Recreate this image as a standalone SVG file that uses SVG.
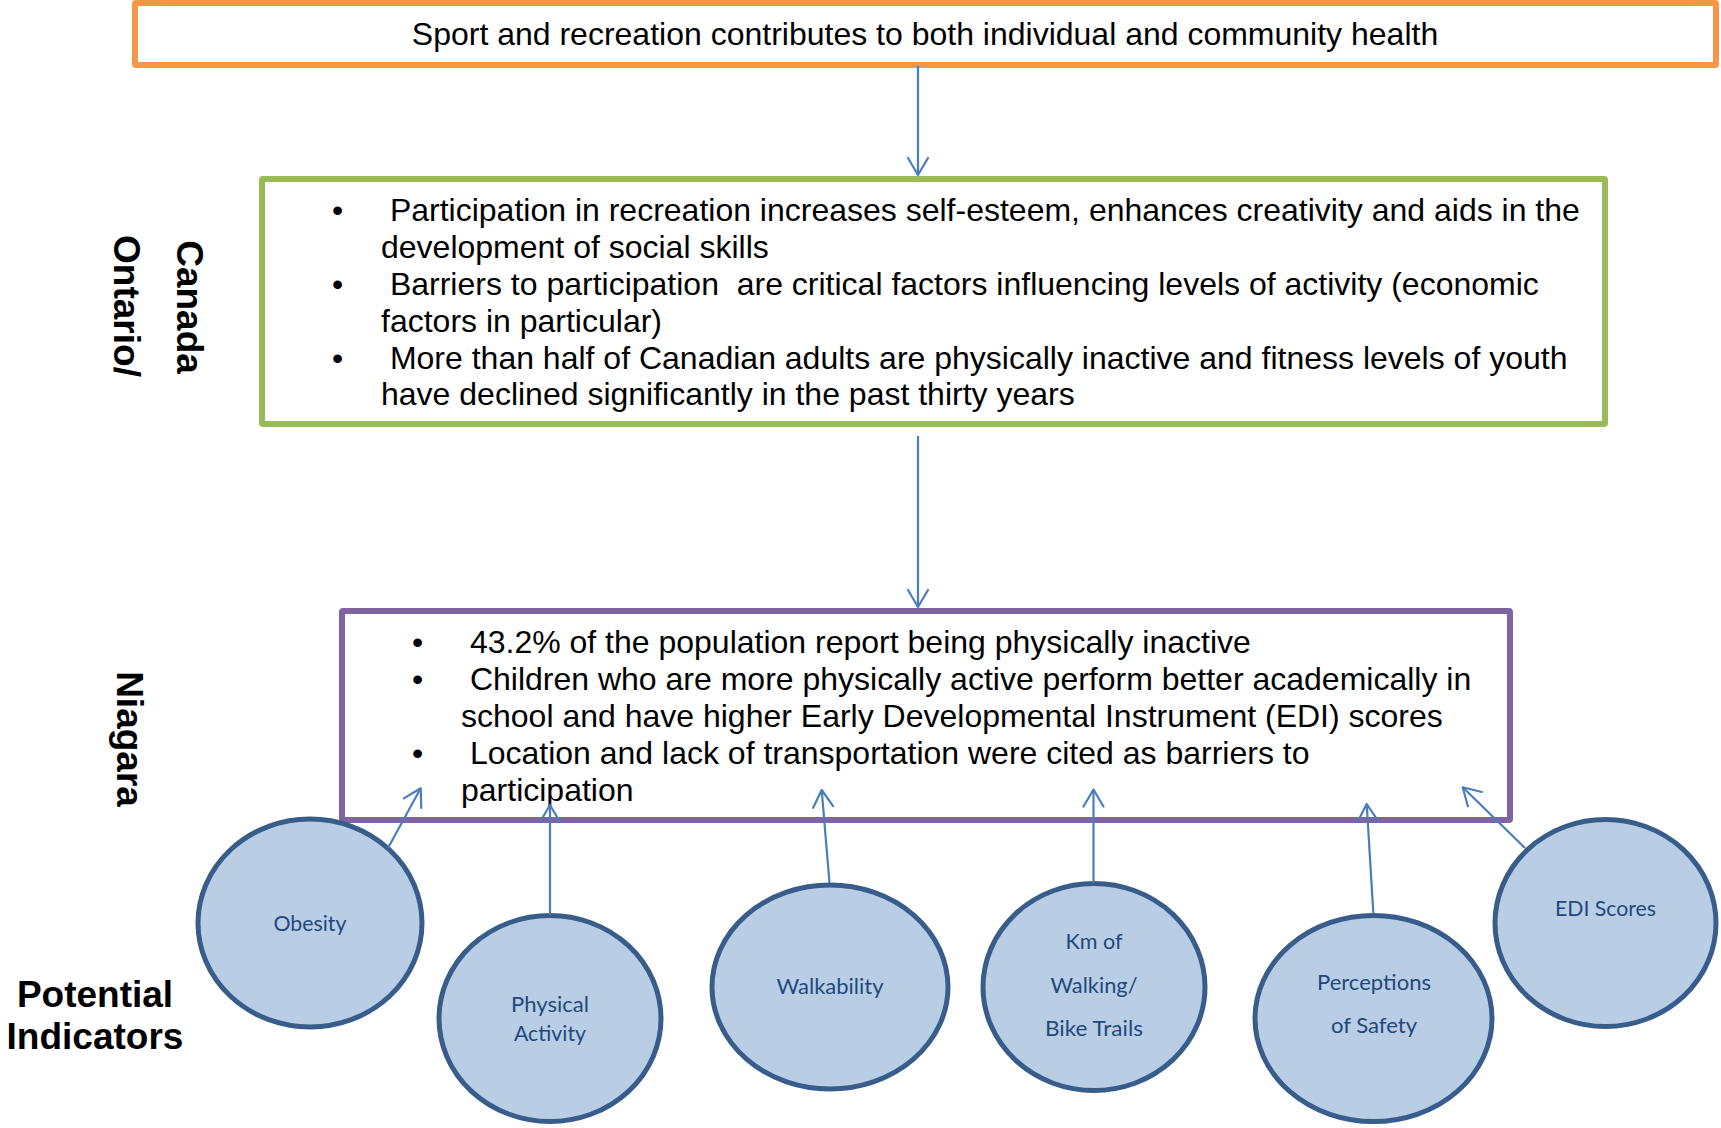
<svg xmlns="http://www.w3.org/2000/svg" width="1721" height="1128" viewBox="0 0 1721 1128">
  <style>
    .box { fill: #FFFFFF; stroke-width: 6; stroke-linejoin: round; }
    .body { font-family: "Liberation Sans", Arial, sans-serif; font-size: 32px; fill: #000000; white-space: pre; }
    .side { font-family: "Liberation Sans", Arial, sans-serif; font-size: 37px; font-weight: bold; fill: #000000; text-anchor: middle; }
    .ind ellipse { fill: #B9CDE5; stroke: #385D8A; stroke-width: 5; }
    .ind text { font-family: Lato, "Open Sans", sans-serif; font-size: 21px; fill: #1F497D; text-anchor: middle; }
    .link { fill: none; stroke: #4A7EBB; stroke-width: 2.2; marker-end: url(#open); }
  </style>
  <defs>
    <marker id="open" markerUnits="userSpaceOnUse" markerWidth="40" markerHeight="40" viewBox="-20 -20 40 40" refX="0" refY="0" orient="auto">
      <path d="M-17,-10 L0,0 L-17,10" fill="none" stroke="#4A7EBB" stroke-width="2.2" stroke-linejoin="round" stroke-linecap="round"/>
    </marker>
  </defs>

  <rect width="1721" height="1128" fill="#FFFFFF"/>

  <!-- headline statement -->
  <g id="headline">
    <rect class="box" x="135" y="3" width="1581" height="62" rx="1" stroke="#F79646"/>
    <text class="body" x="925" y="45" text-anchor="middle">Sport and recreation contributes to both individual and community health</text>
  </g>

  <!-- provincial / national evidence -->
  <g id="canada-ontario">
    <rect class="box" x="262" y="179" width="1343" height="245" rx="1" stroke="#9BBB59"/>
    <text class="body" x="332" y="221">•</text>
    <text class="body" x="381" y="221" xml:space="preserve"> Participation in recreation increases self-esteem, enhances creativity and aids in the</text>
    <text class="body" x="381" y="258">development of social skills</text>
    <text class="body" x="332" y="295">•</text>
    <text class="body" x="381" y="295" xml:space="preserve"> Barriers to participation  are critical factors influencing levels of activity (economic</text>
    <text class="body" x="381" y="332">factors in particular)</text>
    <text class="body" x="332" y="369">•</text>
    <text class="body" x="381" y="369" xml:space="preserve"> More than half of Canadian adults are physically inactive and fitness levels of youth</text>
    <text class="body" x="381" y="405">have declined significantly in the past thirty years</text>
  </g>

  <!-- regional evidence -->
  <g id="niagara">
    <rect class="box" x="342" y="611" width="1168" height="209" rx="1" stroke="#8064A2"/>
    <text class="body" x="412" y="653">•</text>
    <text class="body" x="461" y="653" xml:space="preserve"> 43.2% of the population report being physically inactive</text>
    <text class="body" x="412" y="690">•</text>
    <text class="body" x="461" y="690" xml:space="preserve"> Children who are more physically active perform better academically in</text>
    <text class="body" x="461" y="727">school and have higher Early Developmental Instrument (EDI) scores</text>
    <text class="body" x="412" y="764">•</text>
    <text class="body" x="461" y="764" xml:space="preserve"> Location and lack of transportation were cited as barriers to</text>
    <text class="body" x="461" y="801">participation</text>
  </g>

  <!-- level labels -->
  <g id="labels">
    <text class="side" transform="translate(177,307) rotate(90)">Canada</text>
    <text class="side" transform="translate(114,306) rotate(90)">Ontario/</text>
    <text class="side" transform="translate(117,739) rotate(90)">Niagara</text>
    <text class="side" x="95" y="1007">Potential</text>
    <text class="side" x="95" y="1049">Indicators</text>
  </g>

  <!-- indicator nodes -->
  <g id="obesity" class="ind">
    <ellipse cx="310" cy="923" rx="112" ry="104"/>
    <text x="310" y="931" textLength="73" lengthAdjust="spacingAndGlyphs">Obesity</text>
  </g>
  <g id="physical-activity" class="ind">
    <ellipse cx="550" cy="1018.5" rx="111" ry="103"/>
    <text x="550" y="1012" textLength="78" lengthAdjust="spacingAndGlyphs">Physical</text>
    <text x="550" y="1041" textLength="72" lengthAdjust="spacingAndGlyphs">Activity</text>
  </g>
  <g id="walkability" class="ind">
    <ellipse cx="830" cy="987" rx="118" ry="102"/>
    <text x="830" y="994" textLength="107" lengthAdjust="spacingAndGlyphs">Walkability</text>
  </g>
  <g id="trails" class="ind">
    <ellipse cx="1094" cy="987" rx="111" ry="103.5"/>
    <text x="1094" y="949" textLength="57" lengthAdjust="spacingAndGlyphs">Km of</text>
    <text x="1094" y="993" textLength="87" lengthAdjust="spacingAndGlyphs">Walking/</text>
    <text x="1094" y="1036" textLength="98" lengthAdjust="spacingAndGlyphs">Bike Trails</text>
  </g>
  <g id="safety" class="ind">
    <ellipse cx="1373.5" cy="1018.5" rx="118.5" ry="103"/>
    <text x="1374" y="990" textLength="114" lengthAdjust="spacingAndGlyphs">Perceptions</text>
    <text x="1374" y="1033" textLength="86" lengthAdjust="spacingAndGlyphs">of Safety</text>
  </g>
  <g id="edi-scores" class="ind">
    <ellipse cx="1605.5" cy="923" rx="110.5" ry="103.5"/>
    <text x="1605.5" y="916" textLength="101" lengthAdjust="spacingAndGlyphs">EDI Scores</text>
  </g>

  <!-- connectors -->
  <g id="connectors">
    <line class="link" x1="918" y1="66" x2="918" y2="175"/>
    <line class="link" x1="918" y1="436" x2="918" y2="607"/>
    <line class="link" x1="388" y1="848" x2="420.7" y2="788.3"/>
    <line class="link" x1="550" y1="915" x2="550" y2="805"/>
    <line class="link" x1="829.5" y1="883" x2="821.7" y2="790"/>
    <line class="link" x1="1093.5" y1="883" x2="1093.5" y2="789.5"/>
    <line class="link" x1="1373.4" y1="914" x2="1366.7" y2="804"/>
    <line class="link" x1="1525" y1="848" x2="1462.7" y2="787.3"/>
  </g>
</svg>
